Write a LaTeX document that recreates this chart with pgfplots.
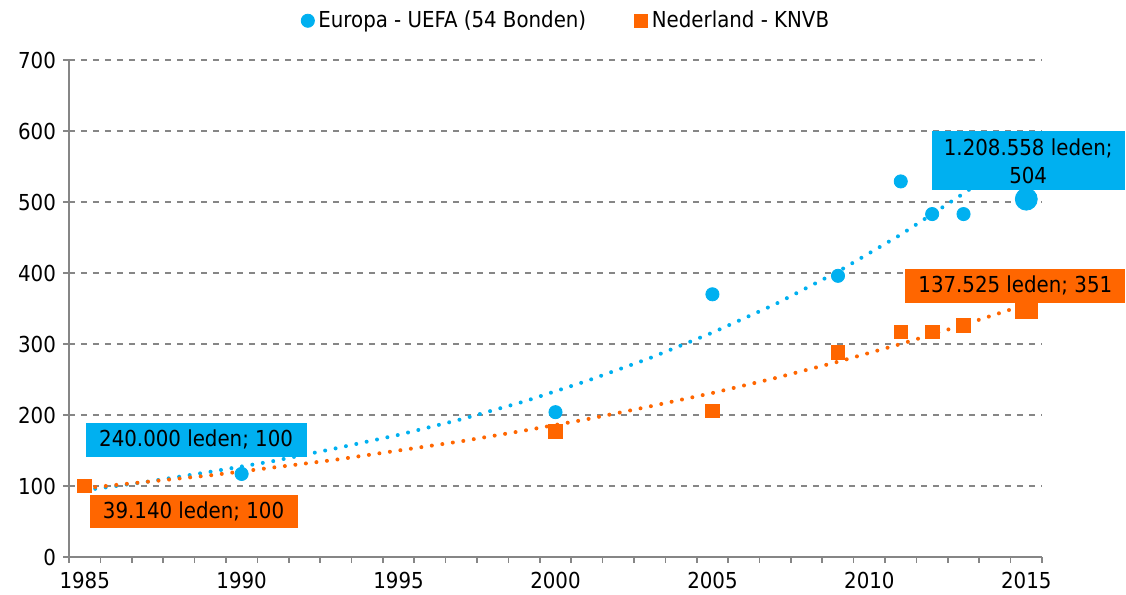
\documentclass[border=0pt]{standalone}
\usepackage{pgfplots}
\pgfplotsset{compat=1.18}
\usepackage{fontspec}
\setmainfont{DejaVu Sans Condensed}
\definecolor{cBlue}{RGB}{0,176,240}
\definecolor{cOrange}{RGB}{255,102,0}
\definecolor{cGrid}{RGB}{134,134,134}

\begin{document}
\begin{tikzpicture}
\path[use as bounding box] (-34.5pt,-19pt) rectangle (528.5pt,278.5pt);
\begin{axis}[
    scale only axis,
    width=486.5pt, height=248.5pt,
    xmin=1984.5, xmax=2015.5,
    ymin=0, ymax=700,
    xtick={1985,1990,...,2015},
    minor xtick={1984.5,1985.5,...,2015.5},
    ytick={0,100,...,700},
    major x tick style={draw=none},
    minor tick length=3pt, major tick length=3pt,
    tick align=outside,
    axis x line*=bottom, axis y line*=left,
    axis line style={cGrid, line width=1pt},
    tick style={cGrid, line width=0.8pt},
    ymajorgrids=true,
    grid style={cGrid, dashed, line width=0.7pt},
    /pgf/number format/1000 sep={},
    /pgf/number format/assume math mode=true,
    tick label style={font=\fontsize{11}{13}\selectfont},
    xticklabel style={yshift=-1pt},
    clip=false,
    legend style={at={(rel axis cs:0.512,1)}, anchor=south, yshift=10.5pt,
        draw=none, fill=none, font=\fontsize{11}{13}\selectfont,
        /tikz/every even column/.append style={column sep=22pt}},
    legend columns=2,
    legend cell align=left,
    legend image code/.code={\draw[#1] plot coordinates {(0pt,0pt)};},
]
% data points
\addplot[only marks, mark=*, mark size=3.3pt, color=cBlue] coordinates {
    (1985,100) (1990,117) (2000,204) (2005,370) (2009,396) (2011,529) (2012,483) (2013,483)};
\addlegendentry{Europa - UEFA (54 Bonden)}
\addplot[only marks, mark=square*, mark size=3.4pt, color=cOrange] coordinates {
    (1985,100) (2000,177) (2005,206) (2009,288) (2011,317) (2012,317) (2013,326)};
\addlegendentry{Nederland - KNVB}
% 2015 highlighted points
\addplot[only marks, mark=*, mark size=5.5pt, color=cBlue, forget plot] coordinates {(2015,504)};
\addplot[only marks, mark=square*, mark size=5.3pt, color=cOrange, forget plot] coordinates {(2015,351)};
% trend lines
\addplot[cBlue, line width=2pt, line cap=round, dash pattern=on 0pt off 5.3pt, forget plot] coordinates {
    (1985,94) (1987,106) (1989,120) (1991,135) (1993,153) (1995,172) (1997,194) (1999,219)
    (2001,248) (2003,280) (2005,316) (2007,356) (2009,402) (2011,454) (2013,512) (2013.2,518)};
\addplot[cOrange, line width=2pt, line cap=round, dash pattern=on 0pt off 5.3pt, forget plot] coordinates {
    (1985,97) (1987,106) (1989,115) (1991,126) (1993,137) (1995,150) (1997,163) (1999,178)
    (2001,194) (2003,212) (2005,231) (2007,252) (2009,275) (2011,300) (2013,327) (2014.6,350)};
% data labels
\node[fill=cBlue, minimum width=96.5pt, minimum height=29.5pt, inner sep=1pt, align=center,
      font=\fontsize{11}{14}\selectfont] at (axis cs:2015.06,558) {1.208.558 leden;\\504};
\node[fill=cOrange, minimum width=110pt, minimum height=17pt, inner sep=1pt,
      font=\fontsize{11}{13}\selectfont] at (axis cs:2014.65,382) {137.525 leden; 351};
\node[fill=cBlue, minimum width=110.5pt, minimum height=17pt, inner sep=1pt,
      font=\fontsize{11}{13}\selectfont] at (axis cs:1988.55,165) {240.000 leden; 100};
\node[fill=cOrange, minimum width=104pt, minimum height=16.5pt, inner sep=1pt,
      font=\fontsize{11}{13}\selectfont] at (axis cs:1988.47,64) {39.140 leden; 100};
\end{axis}
\end{tikzpicture}
\end{document}
